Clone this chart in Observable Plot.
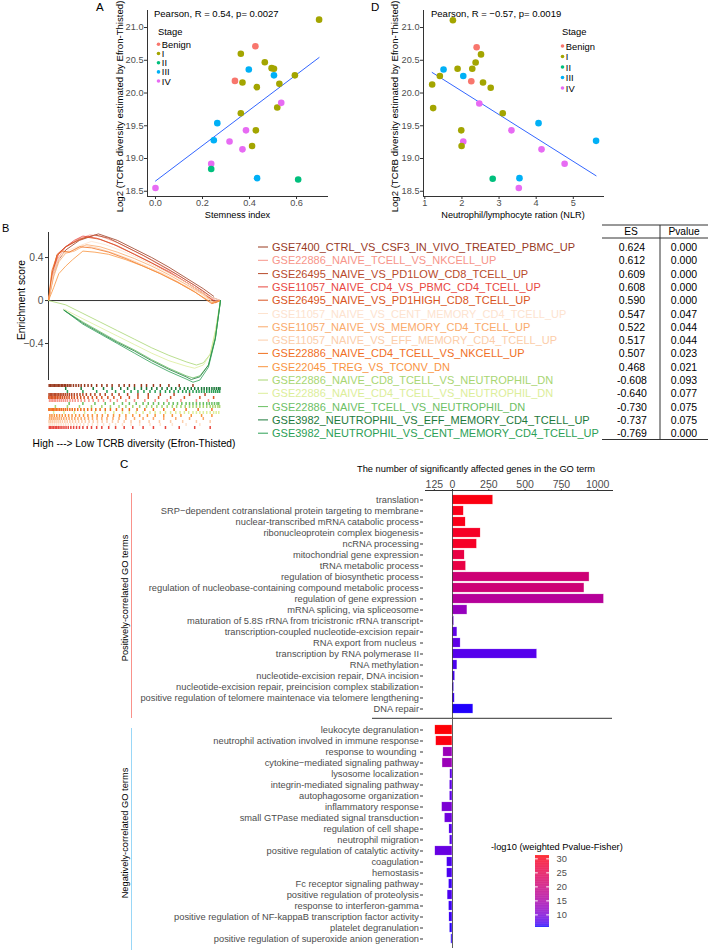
<!DOCTYPE html>
<html><head><meta charset="utf-8">
<script src="https://cdn.jsdelivr.net/npm/d3@7"></script>
<script src="https://cdn.jsdelivr.net/npm/@observablehq/plot@0.6"></script>
<style>
body{margin:0;background:#fff}
#root{position:relative;width:709px;height:951px;overflow:hidden;background:#fff;font-family:"Liberation Sans",Arial,sans-serif}
#root svg{position:absolute;overflow:visible;background:transparent;max-width:none}
</style></head><body><div id="root"></div>
<script>
// ---------------- DATA ----------------
const stages = ["Benign","I","II","III","IV"];
const stageColors = ["#F8766D","#A3A500","#00BF7D","#00B0F6","#E76BF3"];

// Panel A: stemness index vs TCRB diversity
const stemness = [0.696,0.425,0.363,0.465,0.397,0.494,0.504,0.504,0.593,0.338,0.370,0.431,0.527,0.518,0.535,0.363,0.263,0.385,0.427,0.248,0.315,0.411,0.370,0.237,0.237,0.432,0.607,0.0];
const tcrbA = [21.12,20.715,20.60,20.47,20.36,20.38,20.37,20.27,20.27,20.185,20.16,20.09,20.14,19.78,19.85,19.69,19.54,19.43,19.43,19.28,19.26,19.19,19.14,18.92,18.84,18.70,18.68,18.55];
const stageA = ["I","Benign","I","I","III","I","I","III","I","Benign","I","I","I","I","IV","I","III","IV","I","III","IV","I","IV","IV","II","III","II","IV"];

// Panel D: NLR vs TCRB diversity
const nlr = [1.757,2.396,2.514,2.369,1.505,1.883,2.279,1.405,2.036,2.252,2.568,2.775,1.198,1.225,2.468,3.099,4.063,3.333,1.982,5.613,2.036,1.991,4.144,4.766,2.829,3.550,3.532];
const tcrbD = [21.11,20.70,20.59,20.465,20.36,20.37,20.37,20.26,20.26,20.18,20.16,20.08,20.13,19.77,19.84,19.69,19.54,19.43,19.43,19.27,19.26,19.19,19.14,18.92,18.69,18.70,18.55];
const stageD = ["I","Benign","I","I","III","I","I","I","III","Benign","I","I","I","I","IV","I","III","IV","I","III","IV","I","IV","IV","II","III","IV"];

const tcrbTicks = [18.5,19.0,19.5,20.0,20.5,21.0];
const tcrbDomain = [18.42,21.26];
const stemTicks = [0,0.2,0.4,0.6];
const stemDomain = [-0.034,0.736];
const nlrTicks = [1,2,3,4,5];
const nlrDomain = [0.965,5.84];

// Panel B: GSEA
const geneSets = [
 "GSE7400_CTRL_VS_CSF3_IN_VIVO_TREATED_PBMC_UP",
 "GSE22886_NAIVE_TCELL_VS_NKCELL_UP",
 "GSE26495_NAIVE_VS_PD1LOW_CD8_TCELL_UP",
 "GSE11057_NAIVE_CD4_VS_PBMC_CD4_TCELL_UP",
 "GSE26495_NAIVE_VS_PD1HIGH_CD8_TCELL_UP",
 "GSE11057_NAIVE_VS_CENT_MEMORY_CD4_TCELL_UP",
 "GSE11057_NAIVE_VS_MEMORY_CD4_TCELL_UP",
 "GSE11057_NAIVE_VS_EFF_MEMORY_CD4_TCELL_UP",
 "GSE22886_NAIVE_CD4_TCELL_VS_NKCELL_UP",
 "GSE22045_TREG_VS_TCONV_DN",
 "GSE22886_NAIVE_CD8_TCELL_VS_NEUTROPHIL_DN",
 "GSE22886_NAIVE_CD4_TCELL_VS_NEUTROPHIL_DN",
 "GSE22886_NAIVE_TCELL_VS_NEUTROPHIL_DN",
 "GSE3982_NEUTROPHIL_VS_EFF_MEMORY_CD4_TCELL_UP",
 "GSE3982_NEUTROPHIL_VS_CENT_MEMORY_CD4_TCELL_UP"];
const setColors = ["#993A1F","#F7958A","#B84A2B","#E8473F","#D95423","#FDE3CF","#FAAA6B","#FCCDA9","#F0701F","#F9943F","#A8D672","#DCEE9A","#6CC064","#1E7A3C","#2CA055"];
const setES = ["0.624","0.612","0.609","0.608","0.590","0.547","0.522","0.517","0.507","0.468","-0.608","-0.640","-0.730","-0.737","-0.769"];
const setP = ["0.000","0.000","0.000","0.000","0.000","0.047","0.044","0.044","0.023","0.021","0.093","0.077","0.075","0.075","0.000"];
const rugOrder = [
 "GSE7400_CTRL_VS_CSF3_IN_VIVO_TREATED_PBMC_UP",
 "GSE3982_NEUTROPHIL_VS_EFF_MEMORY_CD4_TCELL_UP",
 "GSE3982_NEUTROPHIL_VS_CENT_MEMORY_CD4_TCELL_UP",
 "GSE26495_NAIVE_VS_PD1LOW_CD8_TCELL_UP",
 "GSE26495_NAIVE_VS_PD1HIGH_CD8_TCELL_UP",
 "GSE22886_NAIVE_TCELL_VS_NKCELL_UP",
 "GSE22886_NAIVE_TCELL_VS_NEUTROPHIL_DN",
 "GSE22886_NAIVE_CD8_TCELL_VS_NEUTROPHIL_DN",
 "GSE22886_NAIVE_CD4_TCELL_VS_NKCELL_UP",
 "GSE22886_NAIVE_CD4_TCELL_VS_NEUTROPHIL_DN",
 "GSE22045_TREG_VS_TCONV_DN",
 "GSE11057_NAIVE_VS_MEMORY_CD4_TCELL_UP",
 "GSE11057_NAIVE_VS_EFF_MEMORY_CD4_TCELL_UP",
 "GSE11057_NAIVE_VS_CENT_MEMORY_CD4_TCELL_UP",
 "GSE11057_NAIVE_CD4_VS_PBMC_CD4_TCELL_UP"];
// running enrichment score, [rank fraction, ES]
const esCurves = [
 [[0,0],[0.03,0.25],[0.06,0.38],[0.1,0.47],[0.18,0.56],[0.29,0.62],[0.4,0.56],[0.5,0.48],[0.6,0.40],[0.7,0.31],[0.8,0.21],[0.9,0.11],[0.96,0.04]],
 [[0,0],[0.02,0.2],[0.05,0.38],[0.1,0.5],[0.17,0.57],[0.24,0.61],[0.3,0.60],[0.4,0.54],[0.5,0.46],[0.6,0.38],[0.7,0.29],[0.8,0.19],[0.9,0.09],[0.97,0.0],[1,0]],
 [[0,0],[0.02,0.22],[0.05,0.42],[0.1,0.5],[0.18,0.57],[0.27,0.61],[0.35,0.58],[0.45,0.50],[0.55,0.42],[0.65,0.33],[0.75,0.24],[0.85,0.14],[0.95,0.03],[1,0]],
 [[0,0],[0.03,0.3],[0.06,0.44],[0.1,0.5],[0.15,0.56],[0.2,0.6],[0.28,0.58],[0.38,0.52],[0.5,0.43],[0.6,0.35],[0.7,0.27],[0.8,0.17],[0.9,0.07],[0.97,-0.01],[1,0]],
 [[0,0],[0.02,0.25],[0.05,0.43],[0.1,0.5],[0.16,0.55],[0.22,0.59],[0.3,0.57],[0.4,0.51],[0.5,0.43],[0.6,0.35],[0.7,0.26],[0.8,0.17],[0.9,0.07],[0.97,-0.02],[1,0]],
 [[0,0],[0.03,0.25],[0.07,0.42],[0.12,0.47],[0.18,0.51],[0.25,0.55],[0.33,0.52],[0.43,0.46],[0.53,0.39],[0.63,0.31],[0.73,0.23],[0.83,0.14],[0.93,0.04],[1,0]],
 [[0,0],[0.03,0.22],[0.06,0.36],[0.1,0.44],[0.15,0.46],[0.22,0.52],[0.3,0.50],[0.4,0.45],[0.5,0.39],[0.6,0.32],[0.7,0.24],[0.8,0.15],[0.9,0.06],[0.96,-0.02],[1,0]],
 [[0,0],[0.03,0.28],[0.06,0.40],[0.1,0.45],[0.14,0.46],[0.2,0.515],[0.28,0.49],[0.38,0.44],[0.48,0.38],[0.58,0.31],[0.68,0.24],[0.78,0.15],[0.88,0.07],[0.96,-0.02],[1,0]],
 [[0,0],[0.02,0.28],[0.05,0.42],[0.08,0.46],[0.12,0.45],[0.18,0.5],[0.25,0.49],[0.35,0.45],[0.45,0.39],[0.55,0.32],[0.65,0.25],[0.75,0.17],[0.85,0.08],[0.95,-0.03],[1,0]],
 [[0,0],[0.03,0.12],[0.06,0.25],[0.1,0.32],[0.14,0.38],[0.2,0.46],[0.27,0.45],[0.35,0.43],[0.45,0.38],[0.55,0.32],[0.65,0.25],[0.75,0.17],[0.85,0.08],[0.95,-0.02],[1,0]],
 [[0,0],[0.1,-0.04],[0.2,-0.12],[0.3,-0.2],[0.4,-0.28],[0.5,-0.36],[0.6,-0.44],[0.7,-0.51],[0.8,-0.57],[0.86,-0.6],[0.9,-0.58],[0.94,-0.5],[0.97,-0.3],[1,0]],
 [[0.09,-0.08],[0.2,-0.17],[0.3,-0.25],[0.4,-0.33],[0.5,-0.41],[0.6,-0.49],[0.7,-0.56],[0.8,-0.61],[0.85,-0.63],[0.9,-0.6],[0.94,-0.5],[0.97,-0.28],[1,0]],
 [[0.09,-0.09],[0.2,-0.2],[0.3,-0.29],[0.4,-0.38],[0.5,-0.46],[0.6,-0.55],[0.7,-0.63],[0.8,-0.7],[0.84,-0.72],[0.88,-0.7],[0.93,-0.6],[0.97,-0.35],[1,0]],
 [[0.09,-0.09],[0.2,-0.21],[0.3,-0.3],[0.4,-0.39],[0.5,-0.47],[0.6,-0.56],[0.7,-0.64],[0.8,-0.71],[0.83,-0.735],[0.88,-0.71],[0.93,-0.6],[0.97,-0.35],[1,0]],
 [[0.09,-0.09],[0.2,-0.22],[0.3,-0.31],[0.4,-0.4],[0.5,-0.49],[0.6,-0.58],[0.7,-0.66],[0.8,-0.73],[0.84,-0.76],[0.88,-0.74],[0.93,-0.62],[0.97,-0.36],[1,0]]];
// gene hit positions (rank fraction) for each gene set
const rugHits = [
 [0.004,0.012,0.02,0.027,0.035,0.043,0.05,0.058,0.066,0.075,0.083,0.092,0.1,0.11,0.12,0.13,0.145,0.16,0.175,0.19,0.21,0.23,0.25,0.28,0.31,0.34,0.37,0.41,0.44,0.47,0.5,0.54,0.57,0.61,0.65,0.7,0.76,0.84],
 [0.006,0.015,0.024,0.033,0.041,0.052,0.063,0.074,0.086,0.098,0.11,0.125,0.14,0.155,0.172,0.19,0.21,0.235,0.26,0.29,0.32,0.36,0.4,0.45,0.5,0.56,0.62,0.69,0.77,0.86,0.93],
 [0.003,0.01,0.018,0.026,0.034,0.042,0.05,0.059,0.068,0.078,0.088,0.099,0.11,0.122,0.135,0.15,0.166,0.183,0.2,0.22,0.245,0.27,0.3,0.33,0.37,0.41,0.46,0.52,0.58,0.65,0.73,0.82,0.91],
 [0.005,0.013,0.021,0.03,0.039,0.048,0.057,0.067,0.078,0.09,0.102,0.115,0.13,0.146,0.163,0.18,0.2,0.225,0.25,0.28,0.31,0.35,0.39,0.44,0.49,0.55,0.61,0.68,0.76,0.85,0.94],
 [0.002,0.009,0.017,0.025,0.033,0.042,0.051,0.061,0.071,0.082,0.094,0.107,0.12,0.135,0.15,0.168,0.187,0.207,0.23,0.255,0.28,0.31,0.345,0.38,0.42,0.47,0.52,0.58,0.64,0.71,0.79,0.88,0.96],
 [0.004,0.014,0.025,0.036,0.048,0.06,0.073,0.087,0.1,0.115,0.13,0.147,0.165,0.185,0.205,0.23,0.255,0.285,0.32,0.355,0.39,0.43,0.48,0.53,0.59,0.65,0.72,0.8,0.88],
 [0.006,0.016,0.027,0.038,0.05,0.062,0.075,0.089,0.104,0.12,0.136,0.153,0.171,0.19,0.21,0.232,0.256,0.282,0.31,0.34,0.375,0.41,0.45,0.5,0.55,0.61,0.67,0.74,0.82,0.9],
 [0.003,0.012,0.022,0.033,0.044,0.056,0.068,0.081,0.095,0.109,0.124,0.14,0.157,0.175,0.194,0.214,0.236,0.26,0.285,0.312,0.34,0.372,0.405,0.44,0.48,0.53,0.585,0.645,0.71,0.78,0.86,0.94],
 [0.002,0.008,0.015,0.022,0.03,0.038,0.046,0.055,0.065,0.075,0.086,0.098,0.11,0.124,0.138,0.153,0.17,0.188,0.207,0.228,0.25,0.275,0.3,0.33,0.36,0.395,0.43,0.47,0.515,0.56,0.61,0.67,0.73,0.8,0.87,0.95],
 [0.008,0.02,0.034,0.048,0.064,0.08,0.098,0.117,0.137,0.158,0.18,0.204,0.229,0.255,0.283,0.313,0.345,0.378,0.413,0.45,0.49,0.53,0.575,0.62,0.67,0.72,0.77,0.83,0.89,0.95],
 [0.04,0.11,0.18,0.25,0.31,0.36,0.41,0.45,0.49,0.53,0.57,0.6,0.63,0.66,0.69,0.72,0.745,0.77,0.795,0.82,0.84,0.86,0.88,0.9,0.92,0.94,0.955,0.97,0.985,0.995],
 [0.03,0.09,0.15,0.21,0.27,0.33,0.38,0.43,0.47,0.51,0.55,0.59,0.62,0.65,0.68,0.71,0.74,0.765,0.79,0.815,0.84,0.86,0.88,0.9,0.92,0.94,0.96,0.975,0.99],
 [0.12,0.2,0.27,0.33,0.38,0.43,0.47,0.51,0.55,0.58,0.61,0.64,0.67,0.7,0.725,0.75,0.775,0.8,0.82,0.84,0.86,0.88,0.9,0.92,0.935,0.95,0.965,0.98,0.99],
 [0.1,0.19,0.26,0.32,0.37,0.42,0.46,0.5,0.54,0.57,0.6,0.63,0.66,0.69,0.715,0.74,0.765,0.79,0.81,0.83,0.85,0.87,0.89,0.905,0.92,0.935,0.95,0.963,0.976,0.988,0.997],
 [0.11,0.2,0.28,0.34,0.39,0.44,0.48,0.52,0.555,0.59,0.62,0.65,0.68,0.705,0.73,0.755,0.78,0.8,0.82,0.84,0.86,0.875,0.89,0.905,0.92,0.935,0.948,0.96,0.972,0.984,0.995]];
const esTicks = [-0.4,0,0.4];
const esDomain = [-0.744,0.633];

// Panel C: GO terms
const posTerms = ["translation","SRP\u2212dependent cotranslational protein targeting to membrane","nuclear-transcribed mRNA catabolic process","ribonucleoprotein complex biogenesis","ncRNA processing","mitochondrial gene expression","tRNA metabolic process","regulation of biosynthetic process","regulation of nucleobase-containing compound metabolic process","regulation of gene expression ","mRNA splicing, via spliceosome","maturation of 5.8S rRNA from tricistronic rRNA transcript","transcription-coupled nucleotide-excision repair","RNA export from nucleus ","transcription by RNA polymerase II","RNA methylation","nucleotide-excision repair, DNA incision","nucleotide-excision repair, preincision complex stabilization","positive regulation of telomere maintenace via telomere lengthening","DNA repair"];
const posGenes = [281,78,91,194,169,84,94,944,909,1044,103,12,34,56,584,34,19,12,16,144];
const posLogP = [30.5,30,30,29,29,26,26,20.5,20.5,16.5,12.5,9,8,8,7.5,7,6.8,6.5,6.5,5.8];
const negTerms = ["leukocyte degranulation","neutrophil activation involved in immune response","response to wounding ","cytokine\u2212mediated signaling pathway","lysosome localization","integrin-mediated signaling pathway","autophagosome organization","inflammatory response","small GTPase mediated signal transduction","regulation of cell shape","neutrophil migration","positive regulation of catalytic activity","coagulation","hemostasis","Fc receptor signaling pathway","positive regulation of proteolysis","response to interferon-gamma","positive regulation of NF-kappaB transcription factor activity","platelet degranulation","positive regulation of superoxide anion generation"];
const negGenes = [-119,-113,-63,-69,-16,-19,-19,-72,-53,-22,-19,-119,-38,-38,-25,-34,-25,-22,-19,-9];
const negLogP = [31,30.5,13,13,8,8,8,10,9,7.5,7.5,8.5,7,7,6.5,7,6.5,6.5,6,6];
const goTicks = [-125,0,250,500,750,1000];
const goDomain = [-186,1102];
const pDomain = [5.5,31.2];
const pTicks = [10,15,20,25,30];

// ---------------- HELPERS ----------------
const root = document.getElementById("root");
function hasFont(name){const c=document.createElement("canvas").getContext("2d");const s="abcdefghijklmnopqrstuvwxyz ABCDEFGH 0123";c.font="20px monospace";const a=c.measureText(s).width;c.font=`20px "${name}", monospace`;return c.measureText(s).width!==a;}
const narrow = hasFont("Liberation Sans Narrow");
const baseFam = '"Liberation Sans", Arial, sans-serif';
const cFam = narrow ? '"Liberation Sans Narrow", "Liberation Sans", sans-serif' : baseFam;
const cSize = narrow ? 11.3 : 9.3;
function place(node,left,top){node.style.left=left+"px";node.style.top=top+"px";root.appendChild(node);return node;}
const stageColor = {domain: stages, range: stageColors};

// ---------------- PANEL A & D ----------------
function scatter(xs, ys, ss, xDomain, xTicks, xFmt, marginLeft, marginRight){
  const data = xs.map((x,i)=>({x, y: ys[i], stage: ss[i]}));
  return Plot.plot({
    width: 355, height: 222, marginLeft, marginRight, marginTop: 10, marginBottom: 26,
    style: {fontFamily: baseFam, fontSize: "9.2px", background: "transparent", overflow: "visible"},
    x: {domain: xDomain}, y: {domain: tcrbDomain}, color: stageColor,
    marks: [
      Plot.ruleX([xDomain[0]], {stroke: "#333", strokeWidth: 1}),
      Plot.ruleY([tcrbDomain[0]], {stroke: "#333", strokeWidth: 1}),
      Plot.axisY({ticks: tcrbTicks, tickFormat: d3.format(".1f"), tickSize: 3, tickPadding: 1, label: null, stroke: "#333", fill: "#4d4d4d"}),
      Plot.axisX({ticks: xTicks, tickFormat: xFmt, tickSize: 3, tickPadding: 0, label: null, stroke: "#333", fill: "#4d4d4d"}),
      Plot.linearRegressionY(data, {x: "x", y: "y", ci: 0, stroke: "#3366FF", strokeWidth: 1}),
      Plot.dot(data, {x: "x", y: "y", fill: "stage", r: 3.3})
    ]
  });
}
place(scatter(stemness, tcrbA, stageA, stemDomain, stemTicks, d3.format(".1f"), 147, 27), 0, 0);
place(scatter(nlr, tcrbD, stageD, nlrDomain, nlrTicks, d3.format("d"), 68, 106), 355, 0);

// ---------------- PANEL B ----------------
const setColor = {domain: geneSets, range: setColors};
const curveData = esCurves.flatMap((pts,i)=>pts.map(([x,y])=>({set: geneSets[i], x, y})));
place(Plot.plot({
  width: 240, height: 160, marginLeft: 48, marginRight: 20, marginTop: 10, marginBottom: 2,
  style: {fontFamily: baseFam, fontSize: "10.3px", background: "transparent", overflow: "visible"},
  x: {domain: [0,1], axis: null}, y: {domain: esDomain}, color: setColor,
  marks: [
    Plot.ruleY([0], {stroke: "#333", strokeWidth: 1}),
    Plot.ruleX([0], {stroke: "#333", strokeWidth: 1}),
    Plot.axisY({ticks: esTicks, tickFormat: d => d === 0 ? "0" : d3.format(".1f")(d), tickSize: 3, tickPadding: 2, label: null, stroke: "#333", fill: "#4d4d4d"}),
    Plot.line(curveData, {x: "x", y: "y", z: "set", stroke: "set", strokeWidth: 0.8})
  ]
}), 0, 222);
const rugData = rugHits.flatMap((hits,i)=>hits.map(pos=>({set: geneSets[i], pos})));
place(Plot.plot({
  width: 240, height: 50, marginLeft: 48, marginRight: 20, marginTop: 0, marginBottom: 0,
  style: {background: "transparent"},
  x: {domain: [0,1], axis: null}, y: {domain: rugOrder, axis: null, padding: 0}, color: setColor,
  marks: [Plot.tickX(rugData, {x: "pos", y: "set", stroke: "set", strokeWidth: 1.5})]
}), 0, 381);

// ---------------- PANEL C ----------------
const pColor = {type: "linear", domain: pDomain, range: ["blue","red"], interpolate: "lab"};
const posData = posTerms.map((term,i)=>({term, n: posGenes[i], p: posLogP[i]}));
const negData = negTerms.map((term,i)=>({term, n: negGenes[i], p: negLogP[i]}));
function goChart(data, terms, top, height, withAxis){
  const marks = [];
  if (withAxis) {
    marks.push(Plot.frame({anchor: "top", stroke: "#333"}));
    marks.push(Plot.axisX({anchor: "top", ticks: goTicks, tickFormat: d => String(Math.abs(d)), tickSize: 2, tickPadding: 0.5, fontSize: 10.5, label: null, stroke: "#333", fill: "#4d4d4d"}));
  }
  marks.push(
    Plot.barX(data, {x: "n", y: "term", fill: "p", stroke: "white", strokeWidth: 0.4, insetTop: 0.85, insetBottom: 0.85}),
    Plot.ruleX([0], {stroke: "#333", strokeWidth: 0.8}),
    Plot.axisY({anchor: "left", dx: -2, tickSize: 3, tickPadding: 1.5, label: null, stroke: "#333", fill: "#4d4d4d"})
  );
  return place(Plot.plot({
    width: 709, height, marginLeft: 425, marginRight: 97, marginTop: withAxis ? 20 : 0, marginBottom: withAxis ? 2 : 0,
    style: {fontFamily: cFam, fontSize: cSize + "px", background: "transparent", overflow: "visible"},
    x: {domain: goDomain, axis: withAxis ? undefined : null}, y: {domain: terms, padding: 0}, color: pColor,
    marks
  }), 0, top);
}
goChart(posData, posTerms, 470, 250, true);
goChart(negData, negTerms, 719, 229, false);

// colour bar
const rampSteps = d3.range(pDomain[0], pDomain[1], 0.25);
place(Plot.plot({
  width: 60, height: 80, marginLeft: 15, marginRight: 31, marginTop: 5, marginBottom: 3,
  style: {fontFamily: cFam, fontSize: cSize + "px", background: "transparent", overflow: "visible"},
  x: {domain: [0,1], axis: null}, y: {domain: pDomain}, color: pColor,
  marks: [
    Plot.rect(rampSteps, {x1: 0, x2: 1, y1: d => d, y2: d => Math.min(d + 0.26, pDomain[1]), fill: d => d}),
    Plot.ruleY(pTicks, {x1: 0, x2: 0.2, stroke: "white"}),
    Plot.ruleY(pTicks, {x1: 0.8, x2: 1, stroke: "white"}),
    Plot.axisY({anchor: "right", ticks: pTicks, tickSize: 0, tickPadding: 7, label: null, fill: "#4d4d4d"})
  ]
}), 520, 850);

// ---------------- TEXT OVERLAY ----------------
const ov = d3.select(root).append("svg").attr("width", 709).attr("height", 951)
  .style("left", "0px").style("top", "0px").style("pointer-events", "none");
function T(x, y, s, o = {}) {
  const t = ov.append("text").attr("x", x).attr("y", y).text(s)
    .attr("font-size", o.size || 9.4).attr("font-family", o.fam || baseFam)
    .attr("text-anchor", o.anchor || "start").attr("dominant-baseline", "central")
    .attr("fill", o.fill || "#000");
  if (o.rot) t.attr("transform", `rotate(${o.rot},${x},${y})`);
  return t;
}
function L(x1, y1, x2, y2, stroke, w = 1) {
  ov.append("line").attr("x1", x1).attr("y1", y1).attr("x2", x2).attr("y2", y2).attr("stroke", stroke).attr("stroke-width", w);
}
// Panel A texts
T(96, 7, "A", {size: 11.5});
T(154, 13, "Pearson, R = 0.54, p= 0.0027", {size: 9.5});
T(119.5, 106.5, "Log2 (TCRB diversity estimated by Efron-Thisted)", {size: 9.6, anchor: "middle", rot: -90});
T(237.5, 214.5, "Stemness index", {size: 9.2, anchor: "middle"});
// Panel D texts
T(371, 7, "D", {size: 11.5});
T(431, 13, "Pearson, R = \u22120.57, p= 0.0019", {size: 9.5});
T(394.5, 106.5, "Log2 (TCRB diversity estimated by Efron-Thisted)", {size: 9.6, anchor: "middle", rot: -90});
T(513, 214.5, "Neutrophil/lymphocyte ration (NLR)", {size: 9.2, anchor: "middle"});
// stage legends
function stageLegend(x, y0, ys) {
  T(x, y0, "Stage", {size: 9.4});
  stages.forEach((s, i) => {
    ov.append("circle").attr("cx", x + 0.5).attr("cy", ys[i]).attr("r", 1.8).attr("fill", stageColors[i]);
    T(x + 3.8, ys[i], s, {size: 9.4});
  });
}
stageLegend(158, 31, [44.3, 53.5, 62.7, 71.9, 81]);
stageLegend(562, 31, [46, 56.5, 67, 77.5, 88]);
// Panel B texts
T(2, 228, "B", {size: 11});
T(21, 300, "Enrichment score", {size: 10.3, anchor: "middle", rot: -90});
T(134, 443, "High ---> Low TCRB diversity (Efron-Thisted)", {size: 10.2, anchor: "middle"});
geneSets.forEach((g, i) => {
  const y = 247 + i * 13.3;
  L(258, y, 268, y, setColors[i], 1);
  T(272, y, g, {size: 11, fill: setColors[i]});
  T(632, y, setES[i], {size: 10.5, anchor: "middle"});
  T(684, y, setP[i], {size: 10.5, anchor: "middle"});
});
T(631, 231.5, "ES", {size: 10.2, anchor: "middle"});
T(684, 231.5, "Pvalue", {size: 10.2, anchor: "middle"});
L(602, 225, 708, 225, "#333"); L(602, 238, 708, 238, "#333"); L(602, 439.5, 708, 439.5, "#333");
L(660, 225, 660, 439.5, "#333");
// Panel C texts
T(120, 464, "C", {size: 11.5});
T(476, 469, "The number of significantly affected genes in the GO term", {size: cSize, fam: cFam, anchor: "middle"});
T(125, 598, "Positively-correlated GO terms", {size: cSize, fam: cFam, anchor: "middle", rot: -90});
T(125, 833, "Negatively-correlated GO terms", {size: cSize, fam: cFam, anchor: "middle", rot: -90});
L(131.5, 493, 131.5, 718, "#F8766D", 0.8);
L(131.5, 728, 131.5, 950, "#7FCDF5", 0.8);
L(372, 718.3, 612, 718.3, "#333", 1);
T(491, 847, "-log10 (weighted Pvalue-Fisher)", {size: cSize, fam: cFam});
</script></body></html>
